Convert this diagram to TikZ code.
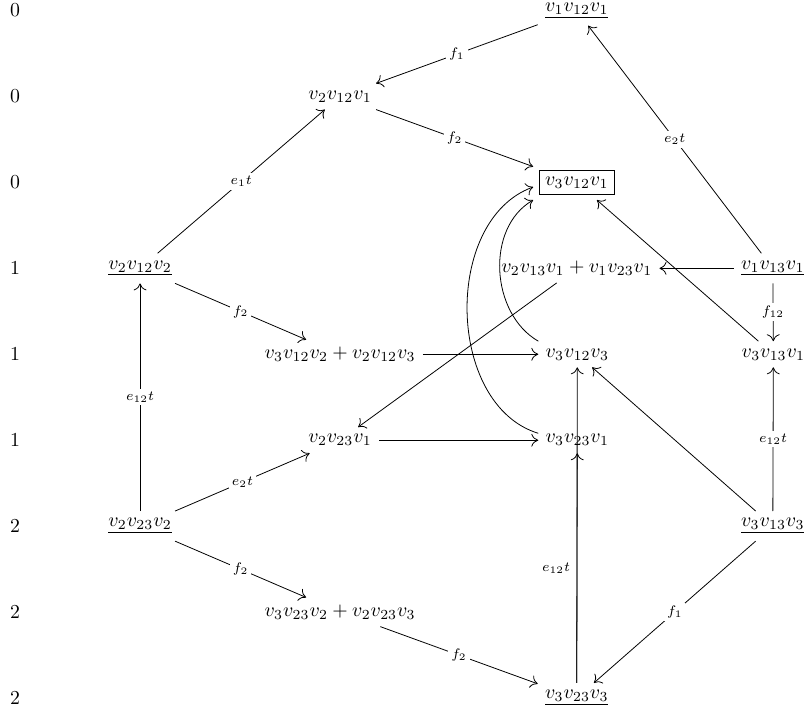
\documentclass[tikz,border=0pt]{standalone}
\usepackage{amsmath}
\usepackage{amssymb}
\usepackage{tikz}
\usetikzlibrary{positioning,arrows.meta}
\tikzstyle{deg} = [inner sep=2pt]
\tikzstyle{term} = [inner sep=3.5pt]
\tikzstyle{lead} = [draw, inner sep=3pt, outer sep=3pt]
\tikzstyle{lab} = [font=\scriptsize]
\tikzstyle{desc} = [lab, fill=white, anchor=center, inner sep=1.5pt]

\begin{document}
\begin{tikzpicture}[auto, node distance=1.525cm, on grid,
    >={Computer Modern Rightarrow[length=3.5pt, width=6.5pt]}]
	  \useasboundingbox (-0.266,0.1875) rectangle (14.004,-12.4125);
	  % degrees
	  \node [deg] (deg0) {$0$};
	  \node [deg, below=of deg0] (deg1) {$0$};
	  \node [deg, below=of deg1] (deg2) {$0$};
	  \node [deg, below=of deg2] (deg3) {$1$};
	  \node [deg, below=of deg3] (deg4) {$1$};
	  \node [deg, below=of deg4] (deg5) {$1$};
	  \node [deg, below=of deg5] (deg6) {$2$};
	  \node [deg, below=of deg6] (deg7) {$2$};
	  \node [deg, below=of deg7] (deg8) {$2$};
	  % terms
	  \node [term, right=9.97cm of deg0] (v1v12v1) {$\underline{v_1v_{12}v_1}$};
	  \node [term, right=5.77cm of deg1] (v2v12v1) {$v_2v_{12}v_1$};
	  \node [term, lead, right=9.97cm of deg2] (v3v12v1) {$v_3v_{12}v_1$};
	  \node [term, right=2.22cm of deg3] (v2v12v2) {$\underline{v_2v_{12}v_2}$};
	  \node [term, right=7.75cm of v2v12v2] (s13) {$v_2v_{13}v_1 + v_1v_{23}v_1$};
	  \node [term, right=3.48cm of s13] (v1v13v1) {$\underline{v_1v_{13}v_1}$};
	  \node [term, right=5.77cm of deg4] (s12) {$v_3v_{12}v_2 + v_2v_{12}v_3$};
	  \node [term, right=4.21cm of s12] (v3v12v3) {$v_3v_{12}v_3$};
	  \node [term, right=3.48cm of v3v12v3] (v3v13v1) {$v_3v_{13}v_1$};
	  \node [term, right=5.77cm of deg5] (v2v23v1) {$v_2v_{23}v_1$};
	  \node [term, right=4.21cm of v2v23v1] (v3v23v1) {$v_3v_{23}v_1$};
	  \node [term, right=2.22cm of deg6] (v2v23v2) {$\underline{v_2v_{23}v_2}$};
	  \node [term, right=13.45cm of deg6] (v3v13v3) {$\underline{v_3v_{13}v_3}$};
	  \node [term, right=5.77cm of deg7] (s23) {$v_3v_{23}v_2 + v_2v_{23}v_3$};
	  \node [term, right=9.97cm of deg8] (v3v23v3) {$\underline{v_3v_{23}v_3}$};
	  % maps
	  \draw [->] (v1v12v1) -- node [desc] {$f_1$} (v2v12v1);
	  \draw [->] (v2v12v1) -- node [desc] {$f_2$} (v3v12v1);
	  \draw [->] (v2v12v2) -- node [desc] {$e_1t$} (v2v12v1);
	  \draw [->] (v1v13v1) -- node [desc] {$e_2t$} (v1v12v1);
	  \draw [->] (v2v12v2) -- node [desc] {$f_2$} (s12);
	  \draw [->] (v2v23v2) -- node [desc] {$e_{12}t$} (v2v12v2);
	  \draw [->] (v2v23v2) -- node [desc] {$e_2t$} (v2v23v1);
	  \draw [->] (v2v23v2) -- node [desc] {$f_2$} (s23);
	  \draw [->] (s23) -- node [desc] {$f_2$} (v3v23v3);
	  \draw [->] (v3v13v3) -- node [desc] {$f_1$} (v3v23v3);
	  \draw [->] (v3v23v3) -- node [lab] {$e_{12}t$} (v3v23v1);
	  \draw [->] (v3v23v3) -- (v3v12v3);
	  \draw [->] (v3v13v3) -- node [desc] {$e_{12}t$} (v3v13v1);
	  \draw [->] (v1v13v1) -- node [desc] {$f_{12}$} (v3v13v1);
	  \draw [->] (v1v13v1) -- (s13);
	  \draw [->] (v3v13v1) -- (v3v12v1);
	  \draw [->] (v3v13v3) -- (v3v12v3);
	  \draw [->] (s13) -- (v2v23v1);
	  \draw [->] (s12) -- (v3v12v3);
	  \draw [->] (v2v23v1) -- (v3v23v1);
	  \draw [->] (v3v12v3.north west) to [out=150, in=210] (v3v12v1.south west);
	  \draw [->] (v3v23v1.170) to [out=163, in=200] (v3v12v1.186);
	\end{tikzpicture}
\end{document}
